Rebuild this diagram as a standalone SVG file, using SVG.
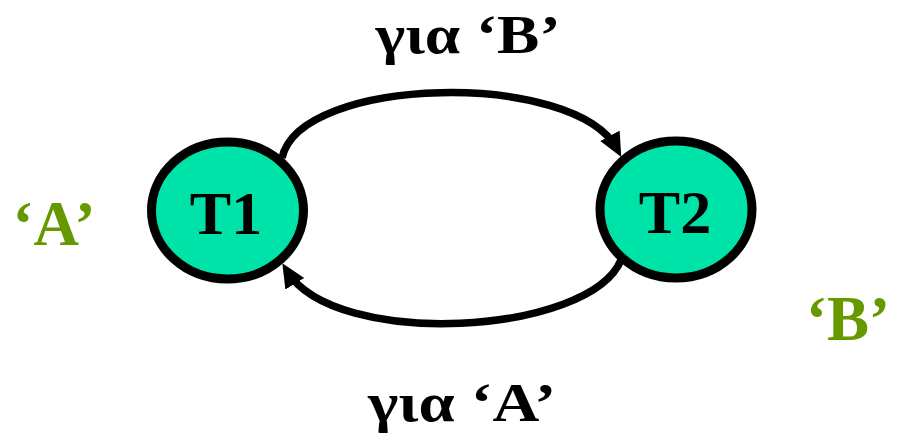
<svg xmlns="http://www.w3.org/2000/svg" width="901" height="434" viewBox="0 0 901 434">
<style>
.node{fill:#00E3A8;stroke:#000;stroke-width:9}
.lbl{font-family:"Liberation Serif","Times New Roman",serif;font-weight:bold;fill:#000;text-anchor:middle}
.green{font-family:"Liberation Serif","Times New Roman",serif;font-weight:bold;fill:#669900;text-anchor:middle}
.edge{fill:none;stroke:#000;stroke-width:7.5}
</style>
<defs>
<marker id="arr" markerUnits="userSpaceOnUse" markerWidth="26" markerHeight="24" refX="15" refY="11" orient="auto">
<path d="M0,0 L24,11 L0,22 z" fill="#000"/>
</marker>
</defs>
<g id="edges">
<path class="edge" d="M282,158 C300,75 575,70 617,149" marker-end="url(#arr)"/>
<path class="edge" d="M621,260 C590,335 335,350 287,271" marker-end="url(#arr)"/>
</g>
<g id="T1">
<ellipse class="node" cx="227.5" cy="210.5" rx="76" ry="68.5"/>
<text class="lbl" x="226" y="234" font-size="62">T1</text>
</g>
<g id="T2">
<ellipse class="node" cx="676" cy="209.5" rx="76" ry="68.5"/>
<text class="lbl" x="675" y="233" font-size="62">T2</text>
</g>
<text class="lbl" x="468" y="53" font-size="54" textLength="185" lengthAdjust="spacingAndGlyphs">για ‘B’</text>
<text class="lbl" x="462" y="421" font-size="54" textLength="188" lengthAdjust="spacingAndGlyphs">για ‘A’</text>
<text class="green" x="54" y="245" font-size="63">‘A’</text>
<text class="green" x="848" y="340" font-size="63">‘B’</text>
</svg>
